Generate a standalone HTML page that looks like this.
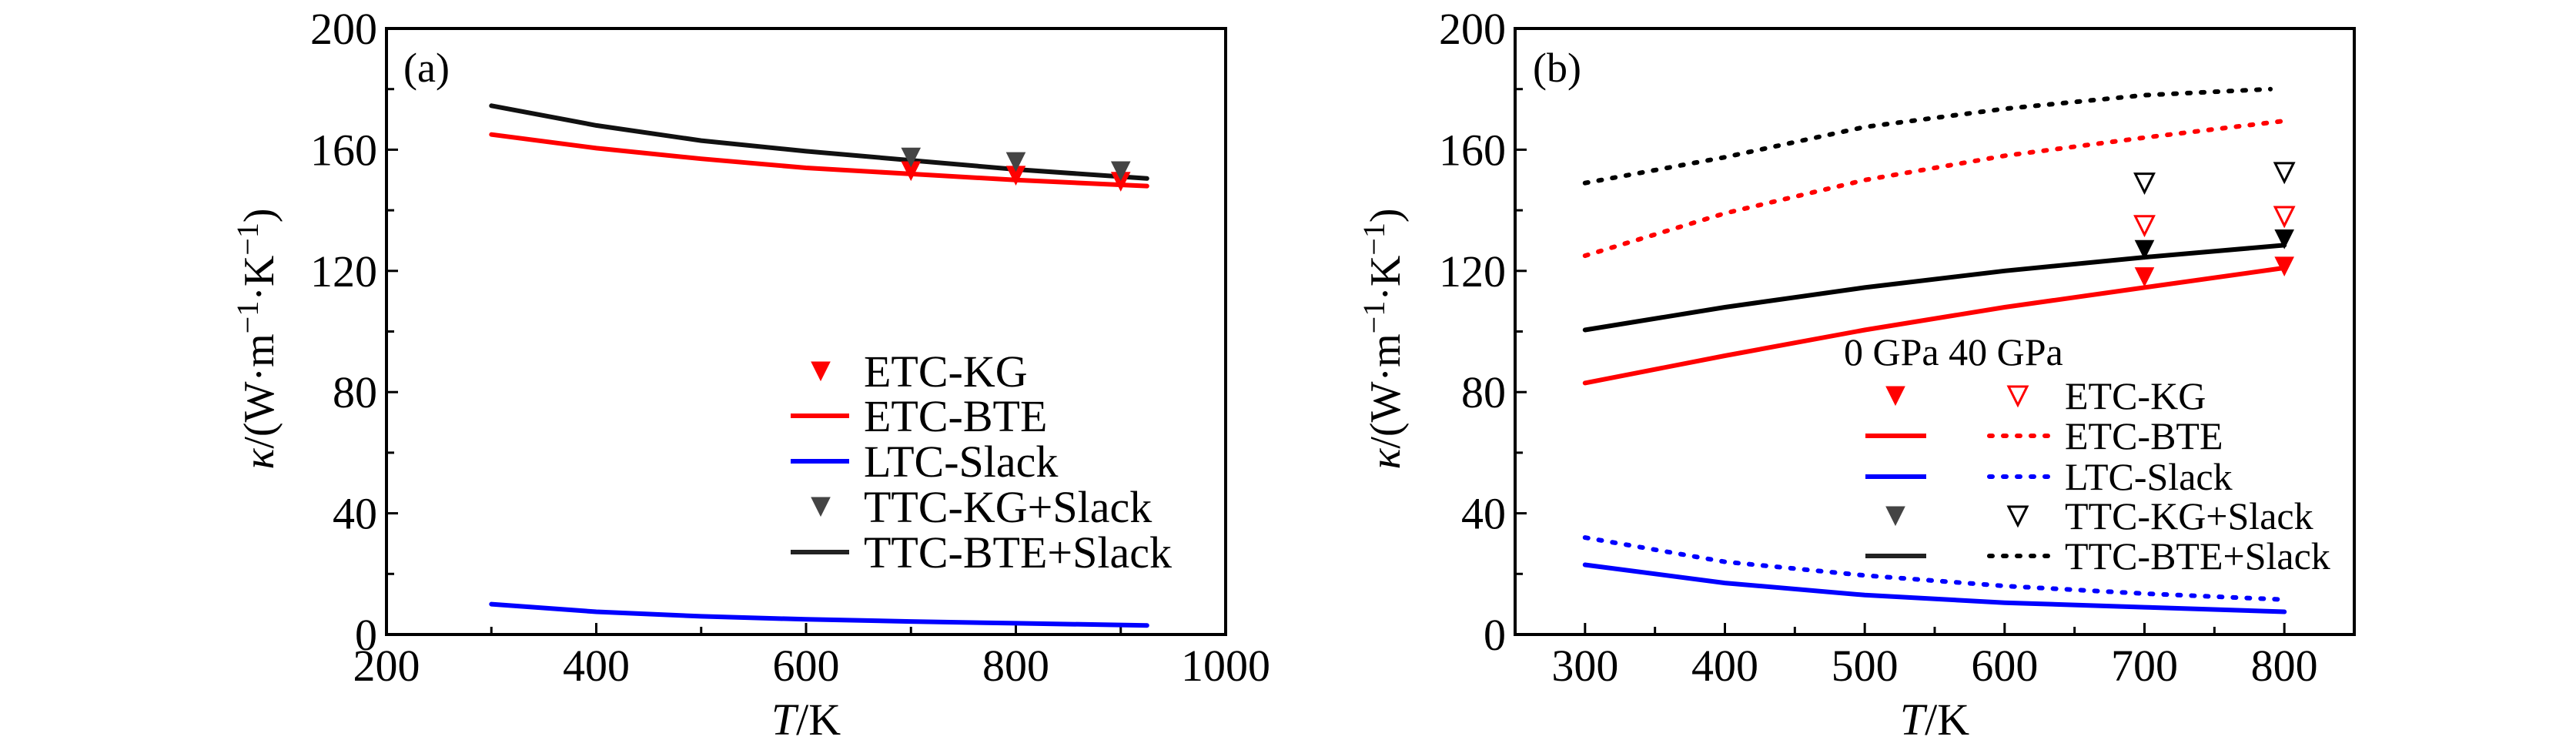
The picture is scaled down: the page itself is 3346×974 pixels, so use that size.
<!DOCTYPE html>
<html><head><meta charset="utf-8"><style>
html,body{margin:0;padding:0;background:#fff}
svg{display:block}
text{font-family:"Liberation Serif",serif;fill:#000}
</style></head><body>
<svg id="chart" width="3346" height="974" viewBox="0 0 3346 974" xmlns="http://www.w3.org/2000/svg">
<g id="pa"></g>
<g id="pb"></g>
</svg>
<script>
// Panel (a) data
const aTempLine = [300, 400, 500, 600, 700, 800, 925];
const aEtcBte = [165, 160.5, 157, 154, 152, 150, 148];
const aTtcBte = [174.5, 168, 163, 159.5, 156.5, 153.5, 150.5];
const aLtcSlack = [10, 7.5, 6, 5, 4.3, 3.7, 3];
const aTempKG = [700, 800, 900];
const aEtcKG = [153, 151.5, 149.5];
const aTtcKG = [157.5, 156, 153];
const aXTicks = [200, 400, 600, 800, 1000];
const yTicks = [0, 40, 80, 120, 160, 200];
// Panel (b) data
const bTemp = [300, 400, 500, 600, 700, 800];
const bTempTtc40 = [300, 400, 500, 600, 700, 790];
const bTtcBte40 = [149, 157.5, 167.5, 173.5, 178, 180];
const bEtcBte40 = [125, 139, 150, 158, 164, 169.5];
const bTtcBte0 = [100.5, 108, 114.5, 120, 124.5, 128.5];
const bEtcBte0 = [83, 92, 100.5, 108, 114.5, 121];
const bLtc40 = [32, 24, 19.5, 16, 13.5, 11.5];
const bLtc0 = [23, 17, 13, 10.5, 9, 7.5];
const bTempKG = [700, 800];
const bEtcKG0 = [118, 121.5];
const bTtcKG0 = [127, 130.5];
const bEtcKG40 = [135, 138];
const bTtcKG40 = [149, 152.5];
const bXTicks = [300, 400, 500, 600, 700, 800];

const NS = "http://www.w3.org/2000/svg";
function mk(parent, tag, attrs, txt) {
  const e = document.createElementNS(NS, tag);
  for (const k in attrs) e.setAttribute(k, attrs[k]);
  if (txt !== undefined) e.textContent = txt;
  parent.appendChild(e);
  return e;
}
const TOP = 37, BOT = 824;
function axes(g, L, R, x0, x1, xt, xminor) {
  const sx = v => L + (v - x0) / (x1 - x0) * (R - L);
  const sy = v => BOT - v / 200 * (BOT - TOP);
  const fr = mk(g, 'rect', {x: L, y: TOP, width: R - L, height: BOT - TOP, fill: 'none', stroke: '#000', 'stroke-width': 4});
  
  
  for (let v = 0; v <= 200; v += 20) {
    const len = v % 40 === 0 ? 15 : 10;
    const t = mk(g, 'line', {x1: L, x2: L + len, y1: sy(v), y2: sy(v), stroke: '#000', 'stroke-width': 3});
    
    
  }
  yTicks.forEach(v => {
    const t = mk(g, 'text', {x: L - 12, y: sy(v) + 20, 'font-size': 58, 'text-anchor': 'end'}, String(v));
    
    
  });
  for (let v = xminor[0]; v <= x1; v += xminor[1]) {
    if (v <= x0 || v >= x1) continue;
    const len = xt.includes(v) ? 15 : 10;
    const t = mk(g, 'line', {x1: sx(v), x2: sx(v), y1: BOT, y2: BOT - len, stroke: '#000', 'stroke-width': 3});
    
    
  }
  xt.forEach(v => {
    const t = mk(g, 'text', {x: sx(v), y: 884, 'font-size': 58, 'text-anchor': 'middle'}, String(v));
    
    
  });
  const xtl = mk(g, 'text', {x: (L + R) / 2, y: 954, 'font-size': 58, 'text-anchor': 'middle'});
  
  
  mk(xtl, 'tspan', {'font-style': 'italic'}, 'T');
  mk(xtl, 'tspan', {}, '/K');
  return {sx, sy};
}
function line(g, xs, ys, s, color, dotted, name) {
  const d = xs.map((x, i) => (i ? 'L' : 'M') + s.sx(x).toFixed(1) + ',' + s.sy(ys[i]).toFixed(1)).join(' ');
  const p = mk(g, 'path', {d, fill: 'none', stroke: color, 'stroke-width': 6, 'stroke-linecap': 'round', 'stroke-dasharray': dotted ? '4 14' : 'none'});
  
  
}
function tri(g, cx, cy, color, open, name) {
  const h = 12;
  const p = mk(g, 'polygon', {points: `${cx - h},${cy - h} ${cx + h},${cy - h} ${cx},${cy + h}`, fill: open ? 'none' : color, stroke: color, 'stroke-width': open ? 3 : 1});
  
  
}
function ylabel(g, x, y) {
  const t = mk(g, 'text', {x: 0, y: 0, 'font-size': 56, 'text-anchor': 'middle', transform: `translate(${x},${y}) rotate(-90)`});
  
  
  mk(t, 'tspan', {'font-style': 'italic'}, 'κ');
  mk(t, 'tspan', {}, '/(W·m');
  mk(t, 'tspan', {dy: -20, 'font-size': 40}, '−1');
  mk(t, 'tspan', {dy: 20}, '·K');
  mk(t, 'tspan', {dy: -20, 'font-size': 40}, '−1');
  mk(t, 'tspan', {dy: 20}, ')');
}
function txt(g, x, y, s, name, size) {
  const t = mk(g, 'text', {x, y, 'font-size': size || 48}, s);
  
  
}

// Panel A
const ga = document.getElementById('pa');
const A = axes(ga, 502, 1592, 200, 1000, aXTicks, [200, 100]);
ylabel(ga, 355, 440);
txt(ga, 524, 106, '(a)', 'panel-label-a', 54);
line(ga, aTempLine, aEtcBte, A, '#f00', false, 'etc-bte-line');
line(ga, aTempLine, aTtcBte, A, '#111', false, 'ttc-bte-slack-line');
line(ga, aTempLine, aLtcSlack, A, '#00f', false, 'ltc-slack-line');
aTempKG.forEach((t, i) => tri(ga, A.sx(t), A.sy(aEtcKG[i]), '#f00', false, 'etc-kg-point'));
aTempKG.forEach((t, i) => tri(ga, A.sx(t), A.sy(aTtcKG[i]), '#444', false, 'ttc-kg-point'));
// legend a
const la = mk(ga, 'g', {});


const aRows = [482, 540, 599, 658, 717];
const aLab = ['ETC-KG', 'ETC-BTE', 'LTC-Slack', 'TTC-KG+Slack', 'TTC-BTE+Slack'];
const aCol = ['#f00', '#f00', '#00f', '#444', '#222'];
aRows.forEach((y, i) => {
  if (i === 0 || i === 3) tri(la, 1066, y, aCol[i], false, 'legend-marker');
  else { const l = mk(la, 'line', {x1: 1027, x2: 1103, y1: y, y2: y, stroke: aCol[i], 'stroke-width': 6});   }
  txt(la, 1122, y + 20, aLab[i], 'legend-entry', 58);
});

// Panel B
const gb = document.getElementById('pb');
const B = axes(gb, 1968, 3058, 250, 850, bXTicks, [300, 50]);
ylabel(gb, 1818, 440);
txt(gb, 1991, 106, '(b)', 'panel-label-b', 54);
line(gb, bTempTtc40, bTtcBte40, B, '#000', true, 'ttc-bte-40gpa-line');
line(gb, bTemp, bEtcBte40, B, '#f00', true, 'etc-bte-40gpa-line');
line(gb, bTemp, bTtcBte0, B, '#000', false, 'ttc-bte-0gpa-line');
line(gb, bTemp, bEtcBte0, B, '#f00', false, 'etc-bte-0gpa-line');
line(gb, bTemp, bLtc40, B, '#00f', true, 'ltc-slack-40gpa-line');
line(gb, bTemp, bLtc0, B, '#00f', false, 'ltc-slack-0gpa-line');
bTempKG.forEach((t, i) => tri(gb, B.sx(t), B.sy(bEtcKG0[i]), '#f00', false, 'etc-kg-0gpa-point'));
bTempKG.forEach((t, i) => tri(gb, B.sx(t), B.sy(bTtcKG0[i]), '#000', false, 'ttc-kg-0gpa-point'));
bTempKG.forEach((t, i) => tri(gb, B.sx(t), B.sy(bEtcKG40[i]), '#f00', true, 'etc-kg-40gpa-point'));
bTempKG.forEach((t, i) => tri(gb, B.sx(t), B.sy(bTtcKG40[i]), '#000', true, 'ttc-kg-40gpa-point'));
const lb = mk(gb, 'g', {});


txt(lb, 2395, 474, '0 GPa 40 GPa', 'legend-header', 50);
const bRows = [514, 566, 619, 670, 722];
const bCol = ['#f00', '#f00', '#00f', '#444', '#222'];
bRows.forEach((y, i) => {
  if (i === 0 || i === 3) {
    tri(lb, 2462, y, bCol[i], false, 'legend-marker-0gpa');
    tri(lb, 2621, y, i === 0 ? '#f00' : '#000', true, 'legend-marker-40gpa');
  } else {
    const l = mk(lb, 'line', {x1: 2423, x2: 2502, y1: y, y2: y, stroke: bCol[i], 'stroke-width': 6});
    
    
    const l2 = mk(lb, 'line', {x1: 2584, x2: 2660, y1: y, y2: y, stroke: i === 4 ? '#000' : bCol[i], 'stroke-width': 6, 'stroke-linecap': 'round', 'stroke-dasharray': '4 14'});
    
    
  }
  txt(lb, 2682, y + 17, aLab[i], 'legend-entry', 50);
});
</script>
</body></html>
